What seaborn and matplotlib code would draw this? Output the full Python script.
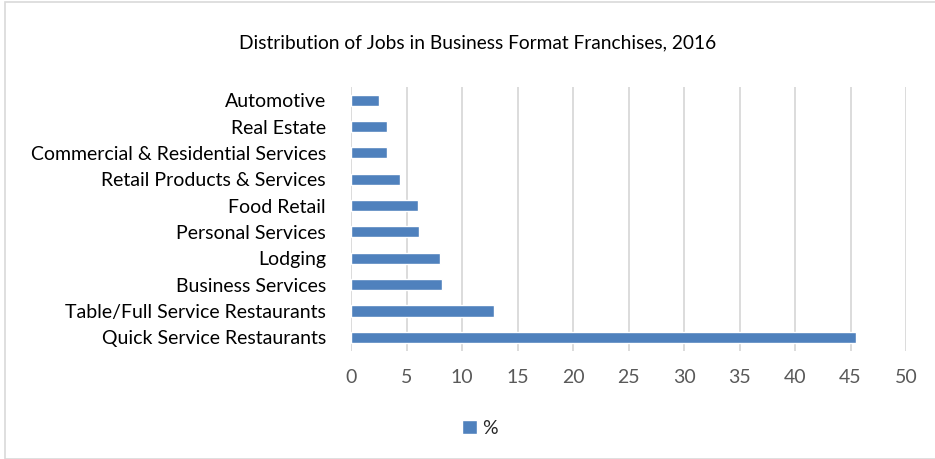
import matplotlib
matplotlib.use("Agg")
import matplotlib.pyplot as plt
import seaborn as sns
import pandas as pd
from matplotlib.patches import Rectangle

categories = ["Automotive", "Real Estate", "Commercial & Residential Services",
              "Retail Products & Services", "Food Retail", "Personal Services",
              "Lodging", "Business Services", "Table/Full Service Restaurants",
              "Quick Service Restaurants"]
values = [2.5, 3.2, 3.2, 4.4, 6.0, 6.1, 8.0, 8.2, 12.9, 45.5]
series_name = "%"
x_ticks = [0, 5, 10, 15, 20, 25, 30, 35, 40, 45, 50]
title = "Distribution of Jobs in Business Format Franchises, 2016"

df = pd.DataFrame({"category": categories, "value": values, "series": series_name})

sns.set_theme(style="white")
plt.rcParams["font.family"] = ["Lato", "DejaVu Sans"]

W, H = 935, 459
fig = plt.figure(figsize=(W / 100, H / 100), dpi=100)
ax = fig.add_axes([351 / W, 1 - 350.5 / H, (906 - 351) / W, (350.5 - 87) / H])

sns.barplot(data=df, y="category", x="value", hue="series", orient="h",
            palette=["#4F81BD"], saturation=1, width=0.42, ax=ax, legend=True)

ax.set_xlim(0, 50)
ax.set_xticks(x_ticks)
ax.set_xticklabels([str(t) for t in x_ticks], fontsize=14, color="#595959")
ax.tick_params(axis="x", length=0, pad=13)
ax.tick_params(axis="y", length=0, pad=18, labelsize=14, labelcolor="#000000")
ax.set_xlabel("")
ax.set_ylabel("")
ax.grid(axis="x", color="#D9D9D9", linewidth=1.3)
ax.set_axisbelow(True)
for s in ax.spines.values():
    s.set_visible(False)

leg = ax.legend(loc="center", bbox_to_anchor=(480 / W, 1 - 428 / H),
                bbox_transform=fig.transFigure, frameon=False, fontsize=14,
                handlelength=0.75, handleheight=0.75, handletextpad=0.3)

fig.text(478 / W, 1 - 43 / H, title, ha="center", va="center", fontsize=13.8, color="#000000")

fig.patches.append(Rectangle((5 / W, 0), 1.2, 1 - 2 / H, transform=fig.transFigure,
                             fill=False, edgecolor="#D9D9D9", linewidth=1.2))

fig.savefig("out.png", dpi=100)
